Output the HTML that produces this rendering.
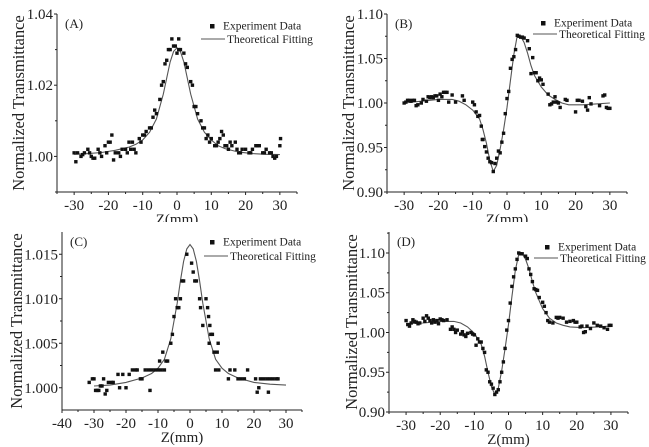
<!DOCTYPE html>
<html><head><meta charset="utf-8"><style>
html,body{margin:0;padding:0;background:#fff;}
svg{display:block;}
svg text{font-family:"Liberation Serif","Times New Roman",serif;}
</style></head><body>
<svg id="chart" width="649" height="447" viewBox="0 0 649 447" xmlns="http://www.w3.org/2000/svg" font-family="Liberation Serif, serif">
<defs><clipPath id="topclip"><rect x="0" y="0" width="649" height="222"/></clipPath></defs>
<rect width="649" height="447" fill="#fff"/>
</svg>
<script>
// Panel A
const aZ=[-30,-29.5,-29,-28,-27.5,-27,-26,-25.5,-25,-24.5,-24,-23,-22.5,-22,-21,-20.5,-20,-19.5,-19,-18.5,-18,-17,-16.5,-16,-15,-14.5,-14,-13.5,-13,-12.5,-12,-11,-10.5,-10,-9.5,-9,-8,-7.5,-7,-6.5,-6,-5,-4.5,-4,-3.5,-3,-2.5,-2,-1.5,-1,-0.5,0,0.5,0.5,1,2,2.5,3,4,4.5,5,5.5,6,7,7.5,8,8.5,9,9.5,10,11,11.5,12,12.5,13,13.5,14,14.5,15,15.5,16,17,17.5,18,18.5,19,20,21,21.5,22,23,23.5,24,25,25.5,26,27,27.5,28,28.5,29,30,30.2];
const aT=[1.001,0.9985,1.001,1.000,1.0005,1.001,1.002,1.001,1.000,0.9995,0.9995,1.002,1.001,1.000,1.003,1.001,1.004,1.004,1.006,0.999,1.001,1.001,1.000,1.002,1.002,1.001,1.004,1.002,1.004,1.002,1.001,1.005,1.004,1.006,1.006,1.007,1.008,1.008,1.011,1.013,1.012,1.016,1.020,1.021,1.026,1.027,1.030,1.030,1.033,1.031,1.031,1.029,1.030,1.033,1.030,1.029,1.026,1.025,1.021,1.020,1.014,1.014,1.012,1.010,1.008,1.008,1.005,1.006,1.004,1.005,1.003,1.003,1.004,1.005,1.007,1.006,1.003,1.003,1.002,1.004,1.003,1.004,1.002,1.001,1.001,1.002,1.002,1.001,1.001,1.002,1.003,1.003,1.003,1.001,1.001,1.002,1.001,1.001,1.000,0.9995,1.000,1.003,1.005];
const aFitZ=[-30,-26,-22,-18,-14,-12,-10,-8,-6,-4,-3,-2,-1,0,1,2,3,4,6,8,10,12,14,18,22,26,30];
const aFitT=[1.0006,1.0008,1.0011,1.0017,1.0026,1.0034,1.0046,1.0068,1.0105,1.0175,1.022,1.0265,1.0295,1.0305,1.0295,1.0265,1.022,1.0175,1.0105,1.0068,1.0046,1.003,1.0022,1.0012,1.0008,1.0006,1.0005];
const aYTicks=[1.00,1.02,1.04];const aYLabels=["1.00","1.02","1.04"];
const aXTicks=[-30,-20,-10,0,10,20,30];
// Panel B
const bZ=[-30,-29.5,-29,-28.5,-28,-27.5,-27,-26.5,-26,-25,-24.5,-23.5,-23,-22.5,-22,-21.5,-21,-20.5,-20,-19.5,-19,-18.5,-18,-17.5,-17,-16,-15,-13,-12.5,-10,-9.5,-9,-8.5,-8,-7.5,-7.2,-7,-6.5,-6,-5.5,-5,-4.5,-4,-3.5,-3,-2.5,-2,-1.5,-1,-0.5,0,0.5,1,1.5,2,2.5,3,3.5,4,4.5,5,6,6.5,7,7.5,8,8.5,9,9.5,10,10.5,12,12.5,13,13.5,14,14.5,15,15.5,17,17.5,20,20.5,21,22,23,23.5,24,24.5,27,28,28.5,29,29.5,30];
const bT=[1.000,1.001,1.003,1.003,1.002,1.003,1.003,0.997,0.998,1.000,1.004,1.002,1.007,1.006,1.007,1.006,1.008,1.008,1.003,1.010,1.007,1.012,1.012,1.012,1.001,1.009,1.001,1.008,1.003,1.001,0.998,0.990,0.985,0.986,0.974,0.959,0.959,0.951,0.945,0.938,0.934,0.933,0.923,0.932,0.938,0.946,0.944,0.956,0.966,0.988,1.005,1.013,1.039,1.049,1.052,1.060,1.076,1.075,1.074,1.074,1.073,1.070,1.061,1.033,1.051,1.034,1.034,1.025,1.028,1.026,1.021,1.010,0.998,0.999,1.001,1.007,1.001,1.000,0.995,1.004,1.003,0.990,1.003,1.003,1.002,0.996,0.992,1.006,0.999,0.997,1.008,1.009,0.995,0.994,0.994];
const bFitZ=[-30,-25,-20,-16,-14,-12,-10,-8,-7,-6,-5,-4,-3,-2,-1,0,1,2,3,4,5,6,7,8,10,12,14,16,18,22,26,30];
const bFitT=[1.000,1.002,1.004,1.004,1.002,0.998,0.992,0.982,0.970,0.955,0.935,0.923,0.930,0.948,0.970,0.995,1.025,1.055,1.076,1.075,1.068,1.056,1.042,1.031,1.018,1.009,1.004,1.000,0.998,0.998,0.999,1.000];
const bYTicks=[0.90,0.95,1.00,1.05,1.10];const bYLabels=["0.90","0.95","1.00","1.05","1.10"];
// Panel C
const cZ=[-31.5,-30.5,-30,-29.5,-29,-28.5,-28,-27.5,-27,-26.5,-26,-25.5,-24.5,-24,-22.5,-22,-21,-20,-19,-18,-17,-16.5,-15.5,-15,-14,-13,-12.5,-12,-11,-10,-9,-8,-9.5,-8.5,-7.5,-7,-6,-5.5,-5,-4.5,-4,-3.5,-3,-2.5,-2,-1,0.5,1,1.5,2,3,3.3,4,5,5.5,5.8,6,6.2,6.5,7,7.5,8,8.5,8.8,9,12,12.5,14,15,16,17,18,20.5,21,21.5,22,23,24,24.5,25,26,27,27.5];
const cT=[1.0006,1.001,1.001,0.9997,0.9997,0.9997,1.0002,1.0002,1.001,0.9993,0.9997,1.0006,1.0006,1.0006,1.0015,1.0000,1.0015,1.0000,1.0015,1.002,1.002,1.002,1.001,1.001,1.002,1.002,0.9997,1.002,1.002,1.002,1.002,1.002,1.003,1.004,1.003,1.003,1.005,1.006,1.008,1.010,1.009,1.009,1.010,1.012,1.012,1.015,1.014,1.013,1.012,1.012,1.010,1.009,1.007,1.010,1.009,1.008,1.005,1.007,1.006,1.006,1.004,1.002,1.004,1.005,1.002,1.001,1.002,1.002,1.001,1.001,1.001,1.002,1.001,0.9995,1.000,1.001,1.001,1.001,0.9995,1.001,1.001,1.001,1.001];
const cFitZ=[-30,-25,-20,-15,-12,-10,-8,-6,-4,-3,-2,-1,0,1,2,3,4,6,8,10,12,15,20,25,30];
const cFitT=[1.0002,1.0003,1.0006,1.0011,1.0016,1.0022,1.0032,1.0055,1.0095,1.012,1.0142,1.0156,1.0161,1.0156,1.0142,1.012,1.0095,1.0055,1.0032,1.0022,1.0016,1.0011,1.0006,1.0004,1.0003];
const cYTicks=[1.000,1.005,1.010,1.015];const cYLabels=["1.000","1.005","1.010","1.015"];
const cXTicks=[-40,-30,-20,-10,0,10,20,30];
// Panel D
const dZ=[-30,-29.5,-29,-28.5,-28,-27.5,-27,-26.5,-26,-25,-24.5,-24,-23.5,-23,-22.5,-22,-21.5,-21,-20.5,-20,-19.5,-19,-18,-17,-16.5,-16,-15.5,-15,-14,-13.5,-13,-12.5,-12,-11,-10.5,-10,-9.5,-9,-8.5,-8,-7.5,-7,-6.5,-6,-5.5,-5,-4.5,-4,-3.5,-3,-2.5,-2,-1.5,-1,-0.5,0,0.5,1,1.5,2,2.5,3,3.5,4,5,5.5,6,6.5,7,7.5,8,8.5,9,10,10.5,11,11.5,12,13,14,14.5,15,16,17,18,19,19.5,20,21,21.5,22,22.5,23,24,25,26,27,28,29,29.5,30];
const dT=[1.015,1.010,1.008,1.012,1.016,1.014,1.013,1.011,1.012,1.018,1.014,1.021,1.018,1.015,1.012,1.016,1.013,1.015,1.011,1.017,1.016,1.015,1.016,1.004,1.007,1.004,1.000,1.003,0.998,1.001,0.997,0.995,0.999,1.000,0.998,0.997,0.984,0.992,0.988,0.988,0.980,0.975,0.953,0.950,0.938,0.935,0.930,0.922,0.925,0.928,0.938,0.950,0.963,0.980,1.003,1.015,1.037,1.058,1.070,1.080,1.092,1.100,1.099,1.099,1.096,1.093,1.080,1.073,1.064,1.055,1.054,1.053,1.044,1.038,1.033,1.025,1.015,1.013,1.012,1.019,1.018,1.019,1.018,1.013,1.014,1.015,1.013,1.013,1.007,1.008,1.000,1.001,1.008,1.005,1.012,1.009,1.008,1.006,1.004,1.009,1.009];
const dFitZ=[-30,-25,-20,-16,-14,-12,-10,-8,-7,-6,-5,-4,-3,-2,-1,0,1,2,3,4,5,6,7,8,10,12,14,16,18,22,26,30];
const dFitT=[1.011,1.012,1.014,1.014,1.012,1.007,0.999,0.985,0.970,0.950,0.932,0.922,0.930,0.952,0.980,1.010,1.045,1.078,1.098,1.099,1.092,1.080,1.064,1.050,1.030,1.018,1.012,1.009,1.007,1.006,1.007,1.008];

const NS="http://www.w3.org/2000/svg";
const svg=document.getElementById('chart');
const FF='"Liberation Serif", serif';
function mk(tag,attrs,parent){const e=document.createElementNS(NS,tag);for(const k in attrs)e.setAttribute(k,attrs[k]);if(tag==='text')e.setAttribute('font-family',FF);(parent||svg).appendChild(e);return e;}

function panel(p){
  const g=mk('g',p.clip?{'clip-path':'url(#topclip)'}:{});
  
  
  const sx=z=>p.x0+(z-p.xd[0])/(p.xd[1]-p.xd[0])*(p.x1-p.x0);
  const sy=t=>p.y1-(t-p.yd[0])/(p.yd[1]-p.yd[0])*(p.y1-p.y0);
  const ax=mk('path',{d:`M${p.x0},${p.y0}V${p.y1}H${p.x1}`,stroke:'#222',fill:'none','stroke-width':1},g);
  
  
  p.xt.forEach(v=>{const x=sx(v);mk('line',{x1:x,x2:x,y1:p.y1,y2:p.y1+3,stroke:'#222'},g);
    const t=mk('text',{x:x,y:p.y1+18,'font-size':15,'text-anchor':'middle',fill:'#222'},g);t.textContent=String(v);
    
    });
  for(let v=p.xd[0];v<=p.xd[1];v+=5){if(p.xt.indexOf(v)<0){const x=sx(v);mk('line',{x1:x,x2:x,y1:p.y1,y2:p.y1+2,stroke:'#222'},g);}}
  p.yt.forEach((v,i)=>{const y=sy(v);mk('line',{x1:p.x0-3,x2:p.x0,y1:y,y2:y,stroke:'#222'},g);
    const t=mk('text',{x:p.x0-4,y:y+5,'font-size':15,'text-anchor':'end',fill:'#222'},g);t.textContent=p.yl[i];
    
    });
  p.ym.forEach(v=>{const y=sy(v);mk('line',{x1:p.x0-2,x2:p.x0,y1:y,y2:y,stroke:'#222'},g);});
  const xl=mk('text',{x:(p.x0+p.x1)/2,y:p.y1+32,'font-size':15,'text-anchor':'middle',fill:'#222'},g);xl.textContent='Z(mm)';
  
  
  const yl=mk('text',{x:0,y:0,'font-size':16.5,'text-anchor':'middle',fill:'#222',transform:`translate(${p.ylx},${(p.y0+p.y1)/2}) rotate(-90)`},g);yl.textContent='Normalized Transmittance';
  
  
  const lab=mk('text',{x:p.x0+8,y:p.y0+14,'font-size':13,fill:'#222'},g);lab.textContent='('+p.id.toUpperCase()+')';
  
  
  const d=p.fz.map((z,i)=>(i?'L':'M')+sx(z).toFixed(1)+','+sy(p.ft[i]).toFixed(1)).join('');
  const fl=mk('path',{d:d,stroke:'#555',fill:'none','stroke-width':1.1},g);
  
  
  p.z.forEach((z,i)=>{const r=mk('rect',{x:sx(z)-1.7,y:sy(p.t[i])-1.7,width:3.4,height:3.4,fill:'#111'},g);
    
    });
  const L=p.leg;
  const lg=mk('g',{},g);
  
  
  mk('rect',{x:L[0]-2,y:L[1]-2,width:4.5,height:4.5,fill:'#111'},lg);
  const t1=mk('text',{x:L[0]+11,y:L[1]+3.5,'font-size':11.5,fill:'#222'},lg);t1.textContent='Experiment Data';
  
  
  mk('line',{x1:L[2],x2:L[2]+24,y1:L[3],y2:L[3],stroke:'#555','stroke-width':1.1},lg);
  const t2=mk('text',{x:L[2]+26,y:L[3]+4,'font-size':11.5,fill:'#222'},lg);t2.textContent='Theoretical Fitting';
  
  
}
panel({id:'a',clip:true,x0:57,x1:297,y0:14,y1:192,xd:[-35,35],yd:[0.99,1.04],xt:aXTicks,yt:aYTicks,yl:aYLabels,ym:[0.99,1.01,1.03],ylx:24,z:aZ,t:aT,fz:aFitZ,ft:aFitT,leg:[212,26,201,39]});
panel({id:'b',clip:true,x0:387,x1:627,y0:14,y1:192,xd:[-35,35],yd:[0.90,1.10],xt:aXTicks,yt:bYTicks,yl:bYLabels,ym:[0.925,0.975,1.025,1.075],ylx:354,z:bZ,t:bT,fz:bFitZ,ft:bFitT,leg:[543,23,533,34]});
panel({id:'c',clip:false,x0:62,x1:302,y0:232,y1:410,xd:[-40,35],yd:[0.9975,1.0175],xt:cXTicks,yt:cYTicks,yl:cYLabels,ym:[1.0025,1.0075,1.0125],ylx:22,z:cZ,t:cT,fz:cFitZ,ft:cFitT,leg:[212,242,204,256]});
panel({id:'d',clip:false,x0:389,x1:628,y0:232,y1:412,xd:[-35,35],yd:[0.90,1.1264],xt:aXTicks,yt:bYTicks,yl:bYLabels,ym:[0.925,0.975,1.025,1.075,1.125],ylx:357,z:dZ,t:dT,fz:dFitZ,ft:dFitT,leg:[547,247,534,258]});
</script>
</body></html>
